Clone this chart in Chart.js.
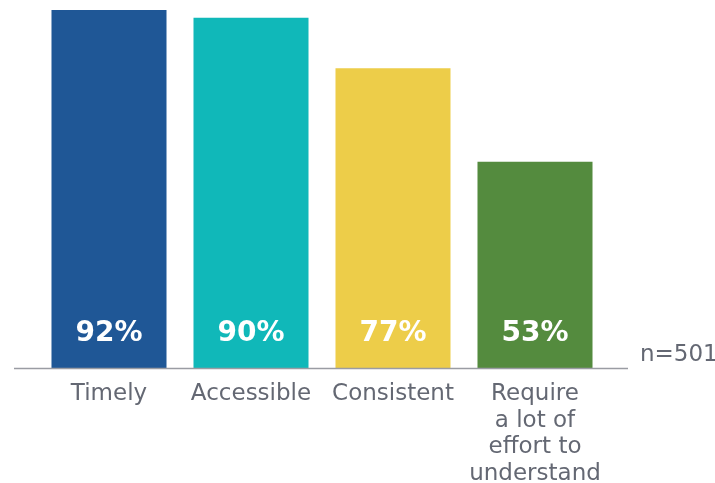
<!DOCTYPE html>
<html>
<head>
<meta charset="utf-8">
<script src="https://cdn.jsdelivr.net/npm/chart.js@4"></script>
<style>
  html, body { margin: 0; padding: 0; background: #fff; }
  #wrap { width: 715px; height: 483px; }
</style>
</head>
<body>
<div id="wrap"><canvas id="chart" width="715" height="483"></canvas></div>
<script>
const categories = [`Timely`, `Accessible`, `Consistent`, [`Require`, `a lot of`, `effort to`, `understand`]];
const values = [92, 90, 77, 53];
const barColors = [`#1f5796`, `#10b8b9`, `#edcd49`, `#548b3e`];
const sampleNote = `n=501`;

const textGray = `#646873`;
const fontFamily = `"DejaVu Sans", sans-serif`;

// white percentages near the foot of each bar, baseline rule and sample size
const extras = {
  id: `extras`,
  afterDatasetsDraw(chart) {
    const ctx = chart.ctx;
    const area = chart.chartArea;
    const meta = chart.getDatasetMeta(0);
    ctx.save();
    ctx.font = `bold 28px ${fontFamily}`;
    ctx.fillStyle = `#fff`;
    ctx.textAlign = `center`;
    ctx.textBaseline = `middle`;
    meta.data.forEach((bar, i) => {
      ctx.fillText(values[i] + `%`, bar.x, area.bottom - 34);
    });

    ctx.strokeStyle = `#9a9ca3`;
    ctx.lineWidth = 1.5;
    ctx.beginPath();
    ctx.moveTo(area.left - 24, area.bottom + 0.5);
    ctx.lineTo(area.right + 22, area.bottom + 0.5);
    ctx.stroke();

    ctx.font = `23px ${fontFamily}`;
    ctx.fillStyle = textGray;
    ctx.textAlign = `left`;
    ctx.fillText(sampleNote, area.right + 34, area.bottom - 13);
    ctx.restore();
  }
};

new Chart(document.getElementById(`chart`).getContext(`2d`), {
  type: `bar`,
  data: {
    labels: categories,
    datasets: [{
      data: values,
      backgroundColor: barColors,
      borderWidth: 0,
      categoryPercentage: 1,
      barPercentage: 0.81
    }]
  },
  options: {
    responsive: false,
    animation: false,
    layout: { padding: { left: 38, right: 109, top: 10, bottom: 0 } },
    plugins: { legend: { display: false }, tooltip: { enabled: false } },
    scales: {
      y: { display: false, min: 0, max: 92 },
      x: {
        grid: { display: false },
        border: { display: false },
        ticks: {
          color: textGray,
          font: { family: fontFamily, size: 23, lineHeight: 1.15 },
          padding: 5,
          maxRotation: 0,
          autoSkip: false
        },
        afterFit(scale) { scale.height = 115; }
      }
    }
  },
  plugins: [extras]
});
</script>
</body>
</html>
